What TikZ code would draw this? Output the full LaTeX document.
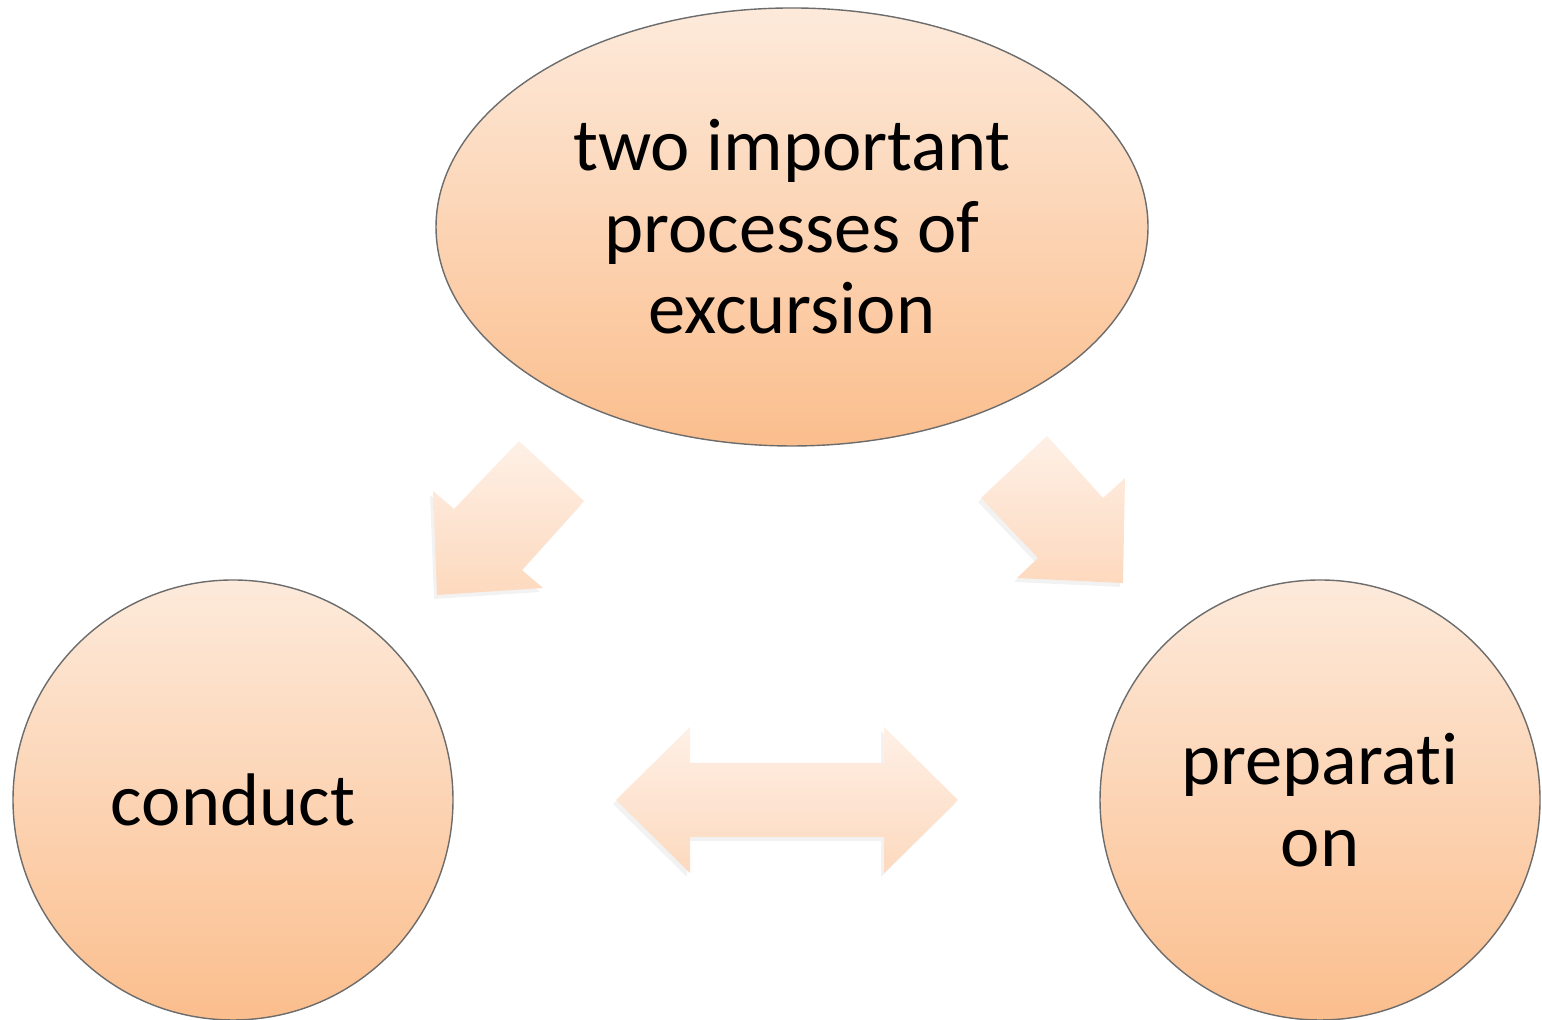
\documentclass[tikz,border=0pt]{standalone}
\usepackage{fontspec}
\setmainfont{Carlito}[Ligatures=NoCommon]
\usetikzlibrary{positioning, shapes.geometric, shadows}
\definecolor{peachtop}{RGB}{253,234,219}
\definecolor{peachbot}{RGB}{251,190,141}
\definecolor{arrowtop}{RGB}{254,240,230}
\definecolor{arrowbot}{RGB}{253,217,190}

\begin{document}
\begin{tikzpicture}[
	bubble/.style={draw=gray!85!black, line width=.4pt, top color=peachtop, bottom color=peachbot, align=center, inner sep=0pt, font=\fontsize{21.2}{23.2}\selectfont},
	blockarrow/.style={top color=arrowtop, bottom color=arrowbot, drop shadow={opacity=.1, shadow xshift=-.03, shadow yshift=-.04}}]
			\useasboundingbox (0,0) rectangle (15.42,10.2);
			\node[bubble,ellipse,minimum width=7.12cm,minimum height=4.38cm] (excursion) at (7.92,7.93) {two important\\processes of\\excursion};
			\node[bubble,circle,minimum size=4.4cm] (conduct) at (2.33,2.2) {conduct};
			\node[bubble,circle,minimum size=4.4cm] (prep) at (13.2,2.2) {preparati\\on};
			\path[blockarrow] (5.19,5.79) -- (5.84,5.19) -- (5.22,4.50) -- (5.43,4.32) -- (4.37,4.25) -- (4.33,5.29) -- (4.54,5.11) -- cycle;
			\path[blockarrow] (9.81,5.22) -- (10.47,5.84) -- (11.03,5.22) -- (11.25,5.42) -- (11.23,4.37) -- (10.17,4.42) -- (10.38,4.62) -- cycle;
			\path[blockarrow] (6.16,2.20) -- (6.90,2.93) -- (6.90,2.57) -- (8.84,2.57) -- (8.84,2.93) -- (9.58,2.20) -- (8.84,1.47) -- (8.84,1.83) -- (6.90,1.83) -- (6.90,1.47) -- cycle;
		\end{tikzpicture}
\end{document}
